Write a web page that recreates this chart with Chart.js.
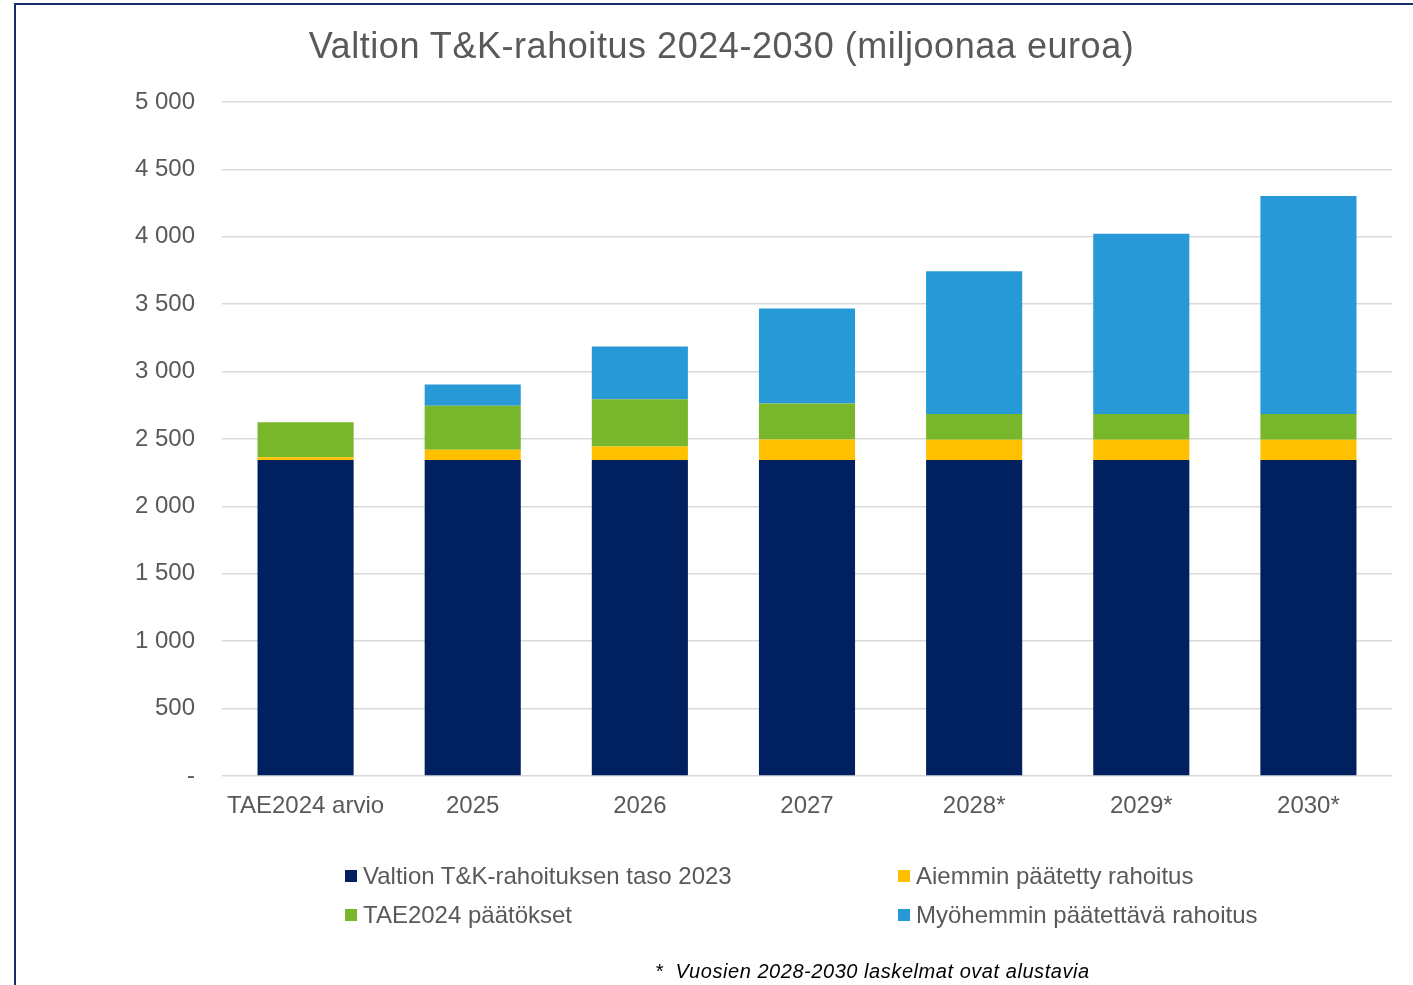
<!DOCTYPE html>
<html lang="fi">
<head>
  <meta charset="UTF-8">
  <title>Valtion T&K-rahoitus 2024-2030</title>
  <script src="https://cdn.jsdelivr.net/npm/chart.js"></script>
  <style>
    html, body { margin: 0; padding: 0; background: #fff; }
    #wrap { position: relative; width: 1413px; height: 985px; overflow: hidden; font-family: "Liberation Sans", Arial, sans-serif; }
    #frame { position: absolute; left: 14px; top: 3px; right: -10px; bottom: -10px; border-left: 2px solid #132d6e; border-top: 2px solid #132d6e; }
    #chartBox { position: absolute; left: 0; top: 0; width: 1413px; height: 985px; }
    #title { position: absolute; left: 0; width: 1443px; top: 28px; text-align: center; font-size: 36px; line-height: 36px; color: #595959; letter-spacing: 0.55px; white-space: nowrap; }
    .leg { position: absolute; display: flex; align-items: center; height: 24px; font-size: 24px; line-height: 24px; color: #595959; white-space: nowrap; }
    .leg span.box { display: inline-block; width: 12px; height: 12px; margin-right: 6px; }
    #note { position: absolute; left: 655px; top: 961px; font-size: 20px; line-height: 20px; font-style: italic; color: #000; white-space: pre; letter-spacing: 0.55px; }
  </style>
</head>
<body>
  <div id="wrap">
    <div id="chartBox"><canvas id="chart"></canvas></div>
    <div id="frame"></div>
    <div id="title">Valtion T&amp;K-rahoitus 2024-2030 (miljoonaa euroa)</div>
    <div id="legend"></div>
    <div id="note">*  Vuosien 2028-2030 laskelmat ovat alustavia</div>
  </div>

  <script>
    // data luettu kuvasta (milj. euroa)
    const categories = ['TAE2024 arvio', '2025', '2026', '2027', '2028*', '2029*', '2030*'];
    const seriesNames = ['Valtion T&K-rahoituksen taso 2023', 'Aiemmin päätetty rahoitus', 'TAE2024 päätökset', 'Myöhemmin päätettävä rahoitus'];
    const taso2023 = [2345, 2345, 2345, 2345, 2345, 2345, 2345];
    const aiemmin = [20, 75, 99, 152, 150, 150, 150];
    const tae2024 = [260, 326, 351, 266, 191, 191, 191];
    const myohemmin = [0, 158, 391, 705, 1058, 1337, 1616];
    const colors = ['#00205f', '#ffc000', '#78b72b', '#2899d7'];
    const yTicks = [0, 500, 1000, 1500, 2000, 2500, 3000, 3500, 4000, 4500, 5000];

    const values = [taso2023, aiemmin, tae2024, myohemmin];
    const datasets = values.map((v, i) => ({
      label: seriesNames[i],
      data: v,
      backgroundColor: colors[i],
      borderWidth: 0,
      categoryPercentage: 1,
      barPercentage: 0.575
    }));

    const gray = '#595959';

    new Chart(document.getElementById('chart'), {
      type: 'bar',
      data: { labels: categories, datasets: datasets },
      options: {
        responsive: true,
        maintainAspectRatio: false,
        animation: false,
        layout: { padding: { top: 102, right: 21, left: 0, bottom: 0 } },
        plugins: {
          legend: { display: false },
          title: { display: false },
          tooltip: { enabled: false }
        },
        scales: {
          x: {
            stacked: true,
            grid: { display: false, drawTicks: false },
            border: { display: false },
            ticks: { color: gray, font: { family: 'Liberation Sans', size: 24 }, padding: 16, maxRotation: 0 },
            afterFit: (s) => { s.height = 209; }
          },
          y: {
            stacked: true,
            min: 0,
            max: 5000,
            afterBuildTicks: (s) => { s.ticks = yTicks.map(v => ({ value: v })); },
            grid: { color: '#d9d9d9', lineWidth: 1.5, drawTicks: false },
            border: { display: false },
            ticks: {
              color: gray,
              font: { family: 'Liberation Sans', size: 24 },
              padding: 27,
              callback: (v) => v === 0 ? '-' : String(v).replace(/\B(?=(\d{3})+(?!\d))/g, ' ')
            },
            afterFit: (s) => { s.width = 222; }
          }
        }
      }
    });

    // legenda kahteen sarakkeeseen
    const legPos = [[345, 864], [898, 864], [345, 903], [898, 903]];
    const legend = document.getElementById('legend');
    seriesNames.forEach((name, i) => {
      const el = document.createElement('div');
      el.className = 'leg';
      el.style.left = legPos[i][0] + 'px';
      el.style.top = legPos[i][1] + 'px';
      el.innerHTML = '<span class="box" style="background:' + colors[i] + '"></span>';
      el.appendChild(document.createTextNode(name));
      legend.appendChild(el);
    });
  </script>
</body>
</html>
